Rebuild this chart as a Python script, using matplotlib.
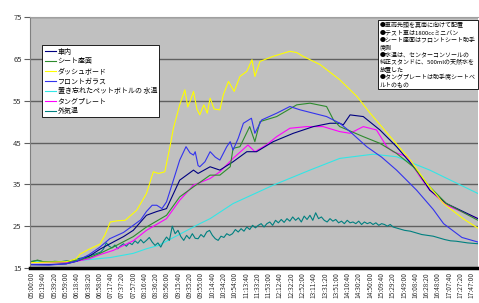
import matplotlib
matplotlib.use("Agg")
import matplotlib.pyplot as plt
import numpy as np

plt.rcParams['font.family'] = ['Noto Sans CJK JP', 'DejaVu Sans']

# ---- data (minutes after 05:00:00, value in deg C) ----
cabin_t = [0, 30, 60, 78, 100, 119, 142, 160, 177, 200, 218, 235, 258, 282, 290, 311, 328, 351, 375, 392, 421, 456, 491, 520, 537, 543, 555, 578, 607, 636, 671, 694, 723, 778]
cabin_v = [15.8, 15.8, 16.0, 16.6, 17.8, 19.5, 21.2, 22.5, 24.0, 27.6, 28.5, 29.2, 36.0, 38.4, 37.6, 39.2, 38.4, 40.4, 42.8, 42.8, 45.2, 47.2, 48.8, 49.6, 49.6, 49.2, 51.6, 51.2, 48.0, 44.0, 38.4, 33.6, 30.4, 26.8]

seat_t = [0, 10, 20, 60, 78, 100, 119, 142, 177, 200, 235, 258, 282, 311, 328, 346, 351, 363, 380, 389, 398, 427, 462, 485, 514, 526, 537, 578, 607, 636, 665, 694, 723, 778]
seat_v = [16.5, 16.9, 16.5, 16.5, 16.8, 17.5, 18.5, 20.0, 22.5, 24.8, 27.6, 32.0, 34.4, 37.2, 37.2, 39.2, 43.6, 44.0, 48.8, 45.2, 50.0, 51.2, 54.0, 54.4, 53.6, 50.4, 48.8, 46.4, 44.8, 42.4, 39.2, 34.4, 30.4, 26.4]

dash_t = [0, 60, 78, 84, 100, 119, 128, 137, 150, 163, 183, 200, 212, 221, 232, 241, 247, 258, 267, 272, 276, 282, 288, 293, 300, 306, 311, 318, 328, 334, 343, 353, 363, 375, 384, 389, 398, 421, 450, 462, 473, 503, 537, 567, 590, 625, 660, 689, 718, 752, 778]
dash_v = [16.3, 16.5, 17.2, 18.3, 19.5, 20.7, 23.0, 26.0, 26.3, 26.4, 28.8, 32.8, 38.0, 37.6, 38.0, 44.0, 48.4, 54.0, 57.6, 53.5, 54.8, 57.2, 53.0, 51.6, 54.0, 52.0, 55.6, 53.0, 52.8, 56.4, 59.6, 57.2, 60.8, 62.0, 64.8, 60.8, 64.4, 65.6, 66.8, 66.5, 65.6, 63.6, 60.0, 56.0, 52.0, 46.4, 40.8, 35.2, 30.4, 26.8, 24.5]

glass_t = [0, 30, 60, 78, 100, 119, 136, 160, 177, 190, 200, 210, 218, 227, 235, 247, 258, 269, 276, 282, 285, 290, 293, 302, 311, 320, 328, 340, 346, 351, 360, 369, 383, 389, 401, 427, 450, 468, 491, 514, 537, 555, 584, 610, 636, 671, 700, 718, 750, 778]
glass_v = [15.8, 15.7, 16.0, 16.6, 18.2, 20.0, 22.0, 23.5, 25.2, 26.5, 28.5, 30.0, 30.0, 29.2, 30.8, 36.0, 40.8, 44.0, 42.5, 42.0, 42.8, 39.5, 39.2, 40.4, 42.8, 41.5, 40.8, 44.0, 45.2, 43.2, 46.0, 49.6, 50.8, 47.2, 50.4, 52.0, 53.6, 52.8, 52.0, 51.2, 49.6, 47.6, 44.0, 41.5, 38.4, 33.6, 29.0, 25.6, 22.3, 21.2]

water_t = [0, 60, 84, 137, 177, 200, 221, 293, 311, 351, 421, 485, 537, 595, 636, 694, 778]
water_v = [16.5, 16.5, 16.8, 17.5, 18.5, 19.6, 20.4, 25.6, 26.8, 30.4, 34.8, 38.4, 41.2, 42.2, 41.6, 38.4, 32.8]

tongue_t = [0, 60, 78, 100, 119, 142, 177, 200, 235, 258, 282, 311, 328, 351, 377, 389, 409, 427, 450, 479, 508, 537, 555, 578, 601, 619, 630, 654, 677, 694, 723, 778]
tongue_v = [16.3, 16.3, 16.6, 17.2, 18.2, 19.2, 21.5, 24.0, 26.8, 31.2, 34.8, 36.4, 38.0, 41.2, 44.4, 42.8, 44.4, 46.4, 48.4, 48.8, 48.8, 47.6, 47.2, 48.8, 48.0, 44.0, 42.8, 41.6, 36.8, 33.6, 30.0, 26.8]

outside_t = [0, 10, 20, 30, 40, 50, 60, 70, 80, 90, 100, 110, 120, 125, 130, 135, 140, 145, 150, 155, 160, 165, 170, 175, 180, 185, 190, 195, 200, 205, 210, 215, 220, 225, 230, 235, 240, 245, 250, 255, 260, 265, 270, 275, 280, 285, 290, 295, 300, 305, 310, 315, 320, 325, 330, 335, 340, 345, 350, 355, 360, 365, 370, 375, 380, 385, 390, 395, 400, 405, 410, 415, 420, 425, 430, 435, 440, 445, 450, 455, 460, 465, 470, 475, 480, 485, 490, 495, 500, 505, 510, 515, 520, 525, 530, 535, 540, 545, 550, 555, 560, 565, 570, 575, 580, 585, 590, 595, 600, 605, 610, 615, 620, 625, 630, 640, 650, 660, 670, 680, 690, 700, 710, 720, 730, 740, 750, 760, 770, 778]
outside_v = [16.6, 16.8, 16.5, 16.4, 16.6, 16.5, 16.7, 16.8, 17.2, 17.5, 17.9, 18.3, 18.8, 19.5, 21.0, 20.2, 19.8, 20.5, 19.6, 20.3, 20.8, 20.2, 21.0, 20.6, 21.5, 20.9, 21.8, 21.0, 21.6, 22.3, 21.2, 20.4, 21.0, 20.0, 21.4, 22.4, 21.6, 25.0, 23.2, 24.0, 22.5, 21.6, 22.8, 22.0, 23.2, 22.1, 22.0, 23.0, 22.4, 23.6, 24.0, 22.8, 22.0, 21.6, 22.6, 22.3, 23.2, 22.8, 23.2, 24.2, 23.6, 24.4, 23.8, 24.8, 24.2, 25.2, 24.6, 25.2, 25.6, 24.8, 25.6, 26.0, 25.2, 26.4, 25.8, 26.6, 25.9, 26.8, 26.2, 27.2, 26.4, 27.0, 26.0, 27.4, 26.6, 27.6, 26.4, 28.2, 26.8, 27.2, 26.4, 26.0, 26.8, 26.2, 26.6, 25.8, 26.2, 25.6, 26.4, 25.8, 26.0, 25.6, 26.2, 25.4, 26.0, 25.6, 25.9, 25.4, 25.8, 25.2, 25.6, 25.4, 25.0, 25.4, 24.8, 24.4, 24.0, 23.8, 23.4, 23.0, 22.8, 22.6, 22.2, 21.8, 21.5, 21.4, 21.2, 21.0, 20.9, 20.8]

labels = ['車内', 'シート座面', 'ダッシュボード', 'フロントガラス', '置き忘れたペットボトルの 水温', 'タングプレート', '外気温']
colors = ['#000080', '#2e8b2e', '#ffff00', '#3333ee', '#33e6e6', '#ff00ff', '#008080']

tick_labels = ['05:00:00', '05:19:40', '05:39:20', '05:59:00', '06:18:40', '06:38:20', '06:58:00', '07:17:40',
               '07:37:20', '07:57:00', '08:16:40', '08:36:20', '08:56:00', '09:15:40', '09:35:20', '09:55:00',
               '10:14:40', '10:34:20', '10:54:00', '11:13:40', '11:33:20', '11:53:00', '12:12:40', '12:32:20',
               '12:52:00', '13:11:40', '13:31:20', '13:51:00', '14:10:40', '14:30:20', '14:50:00', '15:09:40',
               '15:29:20', '15:49:00', '16:08:40', '16:28:20', '16:48:00', '17:07:40', '17:27:20', '17:47:00']

note = ('●車両先頭を真南に向けて配置\n●テスト車は1800ccミニバン\n●シート座面はフロントシート助手\n席側\n'
        '●水温は、センターコンソールの\n純正スタンドに、500mlの天然水を\n放置した\n●タングプレートは助手席シートベ\nルトのもの')

def tick_pos(s):
    h, m, sec = [int(p) for p in s.split(':')]
    return (h - 5) * 60 + m + sec / 60.0

fig = plt.figure(figsize=(4.79, 3.03), dpi=100)
ax = fig.add_axes([30/479, 1 - 268/303, 448/479, (268 - 17)/303])
ax.set_facecolor('#c0c0c0')

series = [(cabin_t, cabin_v), (seat_t, seat_v), (dash_t, dash_v), (glass_t, glass_v),
          (water_t, water_v), (tongue_t, tongue_v), (outside_t, outside_v)]
order = [4, 6, 5, 0, 1, 3, 2]
handles = {}
for i in order:
    t, v = series[i]
    ln, = ax.plot(t, v, color=colors[i], lw=0.8, label=labels[i], zorder=3)
    handles[i] = ln

ax.set_xlim(-3, 778)
ax.set_ylim(15, 75)
ax.set_yticks([15, 25, 35, 45, 55, 65, 75])
ax.yaxis.grid(True, color='#606060', lw=1.0, zorder=1)
ax.set_axisbelow(True)
ax.set_xticks([tick_pos(s) for s in tick_labels])
ax.set_xticklabels(tick_labels, rotation=90, fontsize=4.8, color='#333333')
ax.tick_params(axis='x', length=0, pad=3)
ax.tick_params(axis='y', labelsize=5.5, length=4, color='#606060', labelcolor='#333333', pad=2)
ax.spines['right'].set_visible(False)
ax.spines['top'].set_color('#a0a0a0')
ax.spines['top'].set_linewidth(0.8)
ax.spines['left'].set_color('#808080')
ax.spines['left'].set_linewidth(0.8)
ax.spines['bottom'].set_color('black')
ax.spines['bottom'].set_linewidth(2.5)

leg = fig.legend([handles[i] for i in range(7)], labels, loc='upper left',
                 bbox_to_anchor=(39/479, 1 - 42/303), fontsize=5, frameon=True,
                 fancybox=False, edgecolor='black', framealpha=1, borderpad=0.3,
                 labelspacing=0.28, handlelength=1.6, handletextpad=0.3)
leg.get_frame().set_linewidth(0.6)

fig.text(380/479, 1 - 22/303, note, fontsize=4.3, va='top', ha='left', linespacing=1.32,
         bbox=dict(boxstyle='square,pad=0.3', fc='white', ec='black', lw=0.6), zorder=5)

fig.savefig('out.png', dpi=100)
